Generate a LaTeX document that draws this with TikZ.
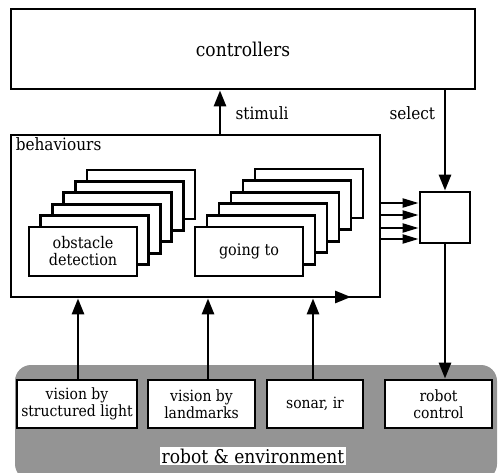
\documentclass[tikz,border=0pt]{standalone}
\usepackage{fontspec}
\setmainfont{DejaVu Serif Condensed}
\usetikzlibrary{arrows.meta}
\usetikzlibrary{positioning}

\begin{document}
\begin{tikzpicture}
      [ x=1pt, y=-1pt
        , every node/.style={font=\fontsize{16}{17}\selectfont}
        , big/.style={font=\fontsize{19}{20}\selectfont}
        , mid/.style={font=\fontsize{17}{18}\selectfont}
        , small/.style={font=\fontsize{15.5}{17}\selectfont}
        , box/.style={draw, line width=2.8pt, fill=white, align=center, inner sep=0pt}
        , card/.style={box, minimum width=108pt, minimum height=49pt}
        , sensor/.style={box, small, minimum height=48pt}
        , link/.style={line width=2.8pt, -{Triangle[length=16pt,width=12pt]}}
        , thin link/.style={line width=2.2pt, -{Triangle[length=16pt,width=9pt]}}
      ]
      \useasboundingbox (0,0) rectangle (501,473);

      % robot & environment
      \fill[black!42, rounded corners=16pt] (15,365) rectangle (497,480);
      \node (env) [big, fill=white, inner sep=2pt] at (253,456) {robot \& environment};

      \node (ctrl) [box, big, minimum width=464pt, minimum height=80pt] at (243,49) {controllers};
      \node (beh) [box, minimum width=369pt, minimum height=162pt] at (195.5,216) {};
      \node (behlbl) [mid, anchor=north west, inner sep=0pt] at ([shift={(6,4)}]beh.north west) {behaviours};

      % obstacle detection
      \node (ob6) [card] at (141,194.5) {};
      \node (ob5) [card] at ([shift={(-11.6,11.4)}]ob6) {};
      \node (ob4) [card] at ([shift={(-11.6,11.4)}]ob5) {};
      \node (ob3) [card] at ([shift={(-11.6,11.4)}]ob4) {};
      \node (ob2) [card] at ([shift={(-11.6,11.4)}]ob3) {};
      \node (ob1) [card] at ([shift={(-11.6,11.4)}]ob2) {obstacle\\detection};

      % going to
      \node (go6) [card] at (309,193.5) {};
      \node (go5) [card] at ([shift={(-12,11.6)}]go6) {};
      \node (go4) [card] at ([shift={(-12,11.6)}]go5) {};
      \node (go3) [card] at ([shift={(-12,11.6)}]go4) {};
      \node (go2) [card] at ([shift={(-12,11.6)}]go3) {};
      \node (go1) [card] at ([shift={(-12,11.6)}]go2) {going to};

      \node (sel) [box, minimum width=50pt, minimum height=51pt] at (445,217.5) {};

      \node (vis1) [sensor, minimum width=120pt] at (77,404) {vision by\\structured light};
      \node (vis2) [sensor, minimum width=107pt] at (201.5,404) {vision by\\landmarks};
      \node (sonar) [sensor, minimum width=96pt] at (315,404) {sonar, ir};
      \node (rctl) [sensor, minimum width=107pt] at (438.5,404) {robot\\control};

      \node (stim) [mid, anchor=west] at (232,113) {stimuli};
      \node (selt) [mid, anchor=west] at (386,113) {select};

      \draw[link] (beh.north -| 220,0) -- (ctrl.south -| 220,0);
      \draw[link] (ctrl.south -| sel) -- (sel.north);
      \draw[link] (sel.south) -- (rctl.north -| sel.south);

      \draw[thin link] (beh.east |- 0,203) -- (sel.west |- 0,203);
      \draw[thin link] (beh.east |- 0,215) -- (sel.west |- 0,215);
      \draw[thin link] (beh.east |- 0,228) -- (sel.west |- 0,228);
      \draw[thin link] (beh.east |- 0,239) -- (sel.west |- 0,239);

      \draw[link] (vis1.north -| 78,0) -- (beh.south -| 78,0);
      \draw[link] (vis2.north -| 208,0) -- (beh.south -| 208,0);
      \draw[link] (sonar.north -| 313,0) -- (beh.south -| 313,0);

      \coordinate (tipa) at (330,297);
      \coordinate (tipb) at (351,297);
      \draw[link] (tipa) -- (tipb);

    \end{tikzpicture}
\end{document}
